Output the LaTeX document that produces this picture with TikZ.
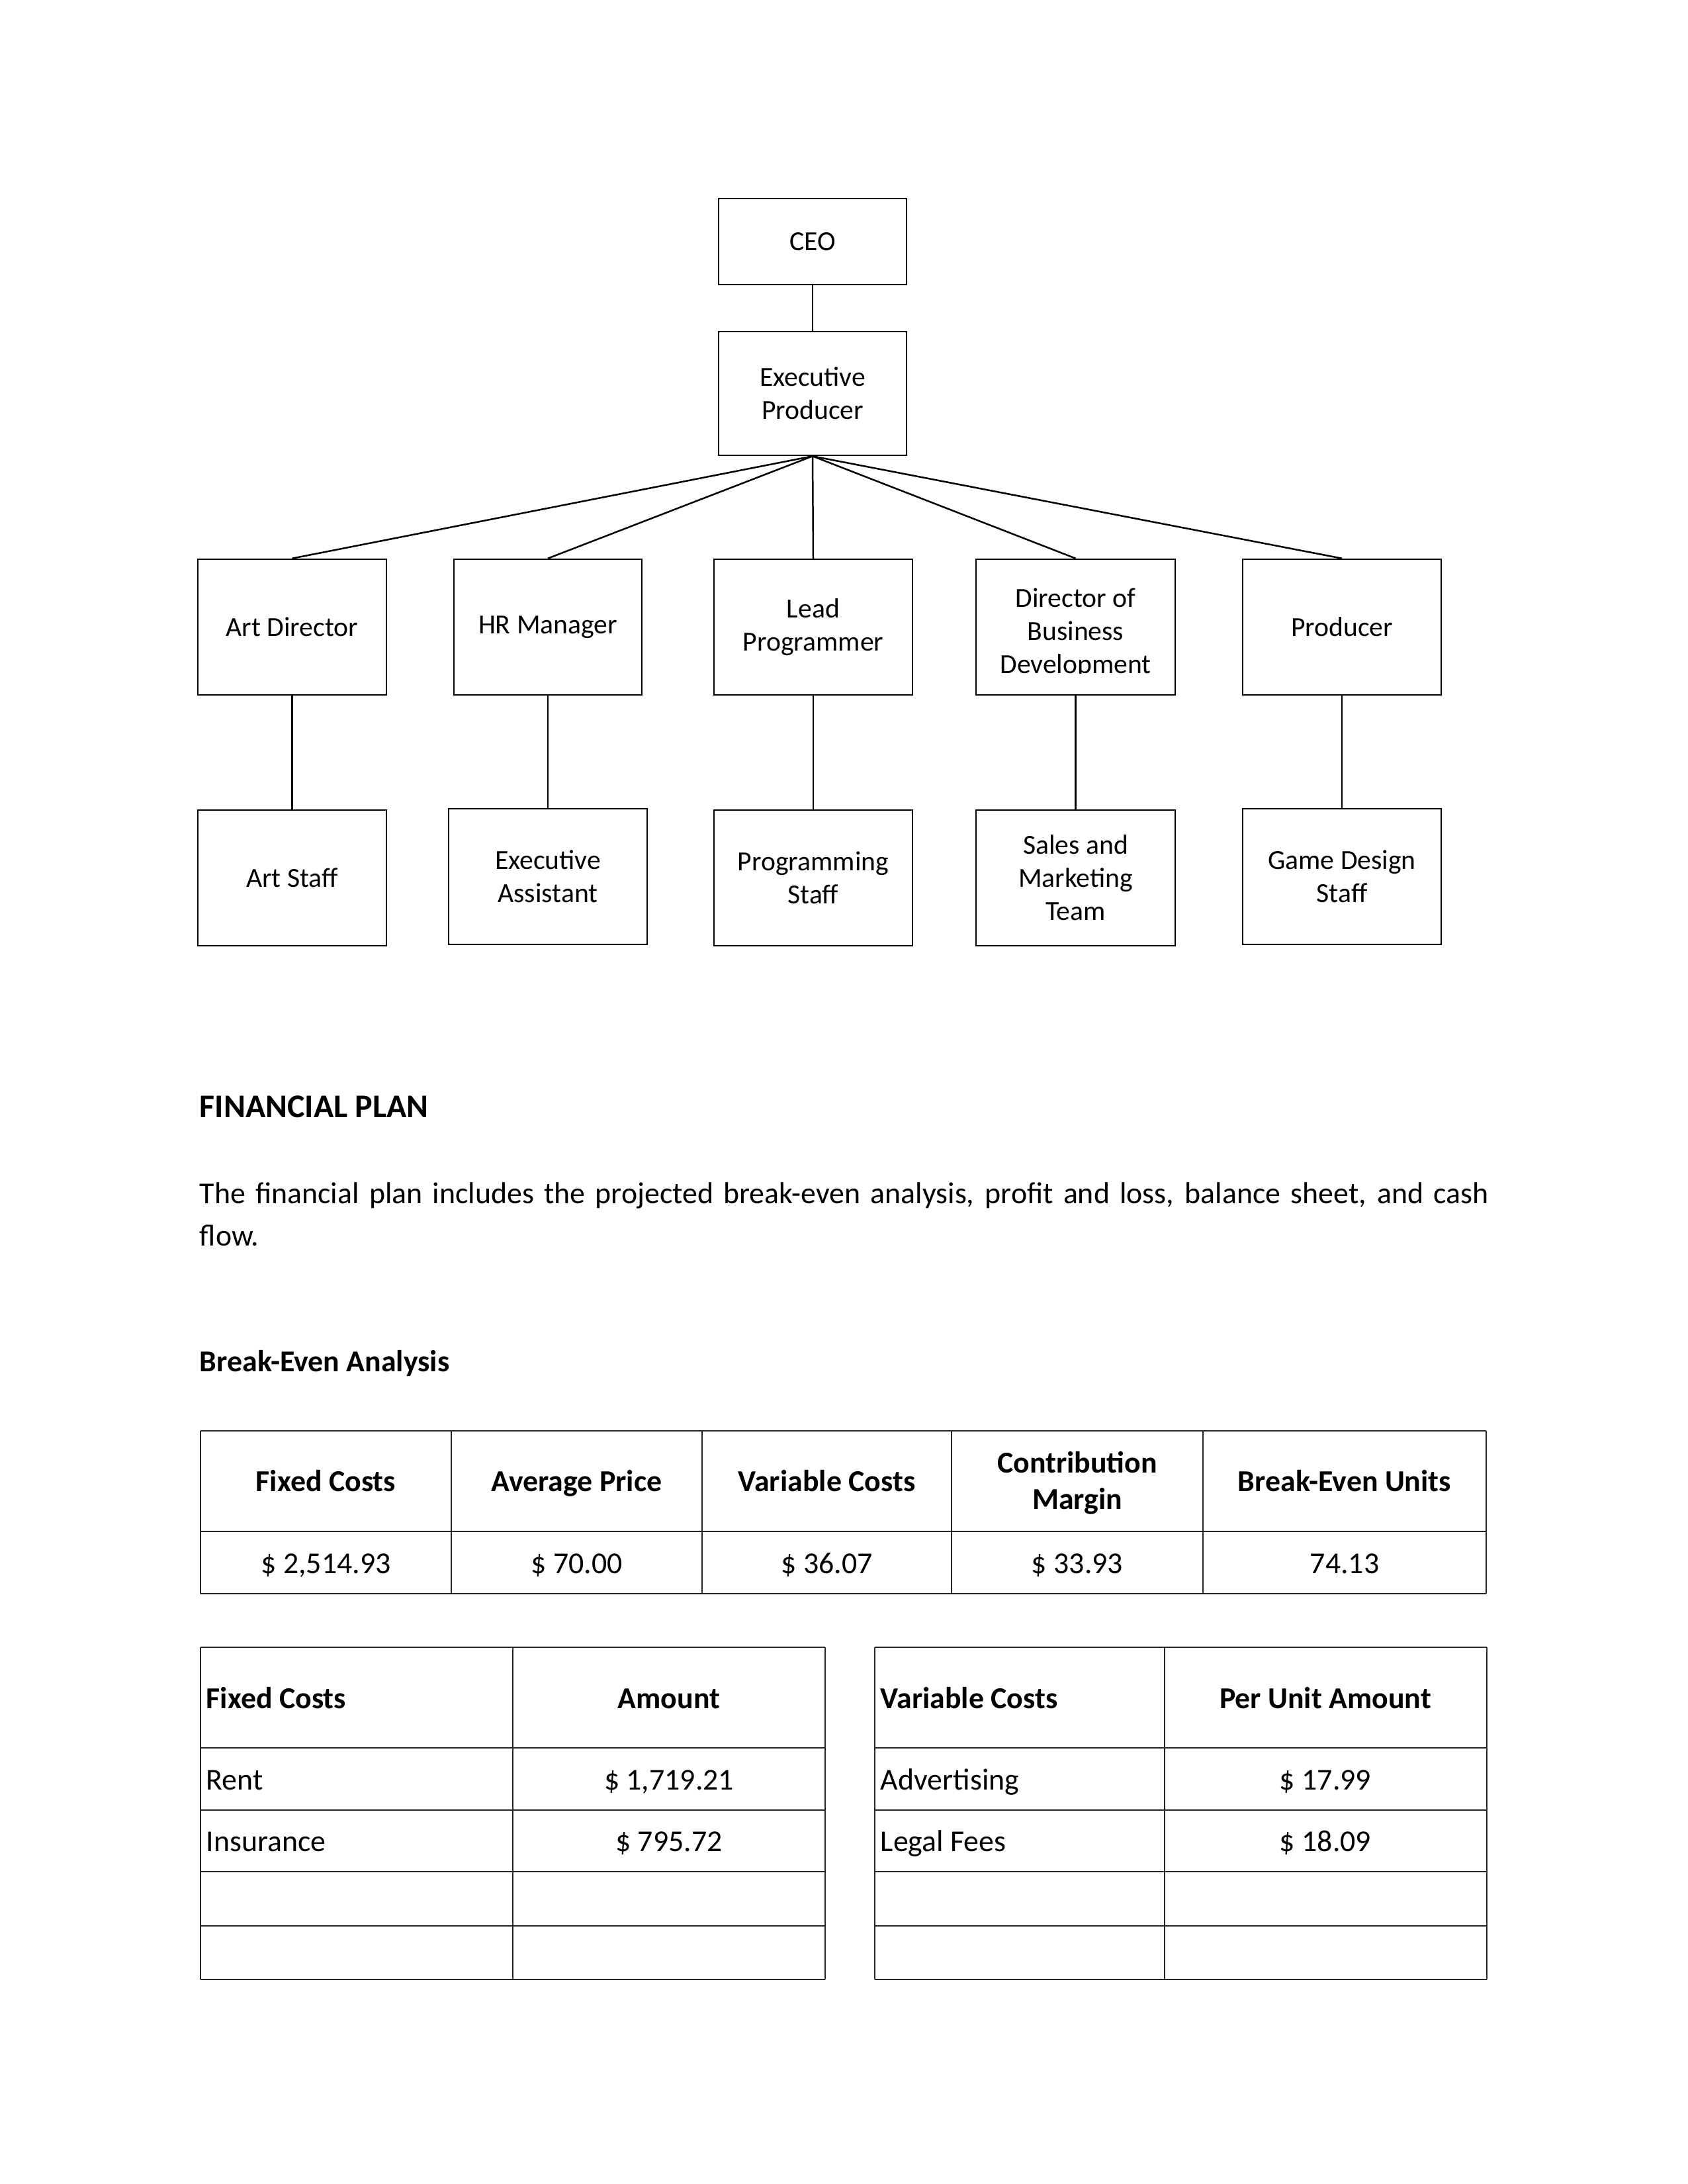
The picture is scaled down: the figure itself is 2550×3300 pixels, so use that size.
\documentclass[tikz,border=0pt]{standalone}
\usepackage{fontspec}
\setmainfont{Carlito}
\begin{document}
\begin{tikzpicture}[x=0.24bp,y=-0.24bp,
  orgbox/.style={draw, line width=0.6pt, inner sep=0pt, align=center, font=\fontsize{10bp}{12bp}\selectfont},
  conn/.style={line width=0.6pt},
  tline/.style={line width=0.55pt, black!85},
  cell/.style={inner sep=0pt, font=\fontsize{11bp}{13bp}\selectfont},
  hcell/.style={inner sep=0pt, align=center, font=\fontsize{11bp}{13bp}\selectfont\bfseries},
]
\useasboundingbox (0,0) rectangle (2550,3300);

% ---------- org chart ----------
\node[orgbox, minimum width=68.16bp, minimum height=31.2bp] (ceo) at (1228,365) {CEO};
\node[orgbox, minimum width=68.16bp, minimum height=44.88bp] (ep) at (1228,594.5) {Executive\\Producer};

\node[orgbox, minimum width=68.4bp, minimum height=49.2bp] (ad) at (441.5,947.5) {Art Director};
\node[orgbox, minimum width=68.16bp, minimum height=49.2bp] (hr) at (828,947.5) {HR Manager};
\node[orgbox, minimum width=72bp, minimum height=49.2bp] (lp) at (1229,947.5) {Lead\\Programmer};
\node[orgbox, minimum width=72.24bp, minimum height=49.2bp] (dbd) at (1625.5,947.5) {};
\begin{scope}
  \clip (1475,845) rectangle (1776,1017);
  \node[inner sep=0pt, align=center, font=\fontsize{10bp}{12bp}\selectfont] (dbdtext) at (1625.5,957) {Director of\\Business\\Development};
\end{scope}
\node[orgbox, minimum width=72bp, minimum height=49.2bp] (pr) at (2028,947.5) {Producer};

\node[orgbox, minimum width=68.4bp, minimum height=49.2bp] (as) at (441.5,1326.5) {Art Staff};
\node[orgbox, minimum width=72bp, minimum height=49.2bp] (ea) at (828,1324.5) {Executive\\Assistant};
\node[orgbox, minimum width=72bp, minimum height=49.2bp] (ps) at (1229,1326.5) {Programming\\Staff};
\node[orgbox, minimum width=72.24bp, minimum height=49.2bp] (sm) at (1625.5,1326.5) {Sales and\\Marketing\\Team};
\node[orgbox, minimum width=72bp, minimum height=49.2bp] (gd) at (2028,1324.5) {Game Design\\Staff};

\draw[conn] (ceo.south) -- (ep.north);
\foreach \n in {ad,hr,lp,dbd,pr}{\draw[conn] (ep.south) -- (\n.north);}
\draw[conn] (ad.south) -- (as.north);
\draw[conn] (hr.south) -- (ea.north);
\draw[conn] (lp.south) -- (ps.north);
\draw[conn] (dbd.south) -- (sm.north);
\draw[conn] (pr.south) -- (gd.north);

% ---------- text ----------
\node[anchor=base west, inner sep=0pt, font=\fontsize{12bp}{14bp}\selectfont\bfseries] (fp) at (301,1688) {FINANCIAL PLAN};
\node[anchor=base west, inner sep=0pt, text width=467.5bp, align=justify, font=\fontsize{11bp}{15.4bp}\selectfont] (body) at (301,1818)
  {The financial plan includes the projected break-even analysis, profit and loss, balance sheet, and cash\linebreak flow.};
\node[anchor=base west, inner sep=0pt, font=\fontsize{11bp}{13bp}\selectfont\bfseries] (bea) at (301,2072) {Break-Even Analysis};

% ---------- table 1 ----------
\foreach \y in {2162,2314,2408}{\draw[tline] (303,\y) -- (2246,\y);}
\foreach \x in {303,682,1061,1438,1818,2246}{\draw[tline] (\x,2162) -- (\x,2408);}
\node[hcell, anchor=base] (h1) at (492.5,2253) {Fixed Costs};
\node[hcell, anchor=base] (h2) at (871.5,2253) {Average Price};
\node[hcell, anchor=base] (h3) at (1249.5,2253) {Variable Costs};
\node[hcell, anchor=base] (h4) at (1628,2280) {Contribution\\Margin};
\node[hcell, anchor=base] (h5) at (2032,2253) {Break-Even Units};
\node[cell, anchor=base] (d1) at (492.5,2377) {\$ 2,514.93};
\node[cell, anchor=base] (d2) at (871.5,2377) {\$ 70.00};
\node[cell, anchor=base] (d3) at (1249.5,2377) {\$ 36.07};
\node[cell, anchor=base] (d4) at (1628,2377) {\$ 33.93};
\node[cell, anchor=base] (d5) at (2032,2377) {74.13};

% ---------- table 2 (fixed) ----------
\foreach \y in {2489,2641,2735,2828,2910,2991}{\draw[tline] (303,\y) -- (1247,\y);}
\foreach \x in {303,775,1247}{\draw[tline] (\x,2489) -- (\x,2991);}
\node[hcell, anchor=base west] (fh1) at (311,2581) {Fixed Costs};
\node[hcell, anchor=base] (fh2) at (1011,2581) {Amount};
\node[cell, anchor=base west] (fr1) at (311,2704) {Rent};
\node[cell, anchor=base] (fa1) at (1011,2704) {\$ 1,719.21};
\node[cell, anchor=base west] (fr2) at (311,2797) {Insurance};
\node[cell, anchor=base] (fa2) at (1011,2797) {\$ 795.72};

% ---------- table 3 (variable) ----------
\foreach \y in {2489,2641,2735,2828,2910,2991}{\draw[tline] (1322,\y) -- (2247,\y);}
\foreach \x in {1322,1760,2247}{\draw[tline] (\x,2489) -- (\x,2991);}
\node[hcell, anchor=base west] (vh1) at (1330,2581) {Variable Costs};
\node[hcell, anchor=base] (vh2) at (2003,2581) {Per Unit Amount};
\node[cell, anchor=base west] (vr1) at (1330,2704) {Advertising};
\node[cell, anchor=base] (va1) at (2003,2704) {\$ 17.99};
\node[cell, anchor=base west] (vr2) at (1330,2797) {Legal Fees};
\node[cell, anchor=base] (va2) at (2003,2797) {\$ 18.09};
\end{tikzpicture}
\end{document}
